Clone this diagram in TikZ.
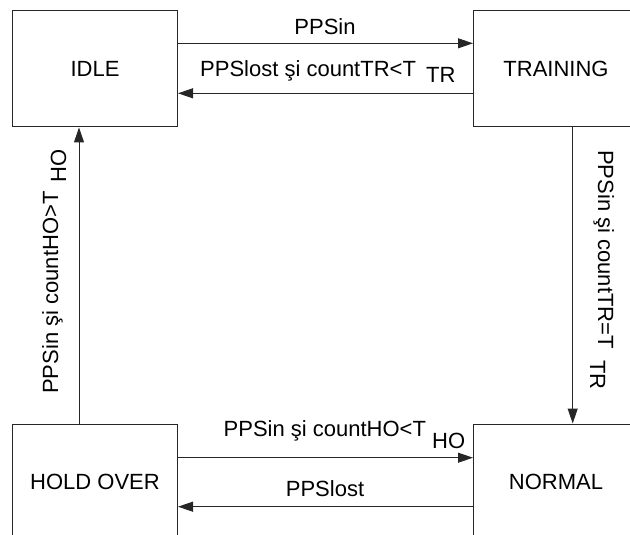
\documentclass[tikz,border=0pt]{standalone}
\usepackage{fontspec}
\setmainfont{Liberation Sans}
\usetikzlibrary{arrows.meta}
\begin{document}
\begin{tikzpicture}[x=1pt,y=1pt,
  font=\fontsize{22}{26}\selectfont,
  state/.style={draw=black!85, line width=1pt, rectangle, inner sep=0pt,
    minimum width=165pt, minimum height=116pt},
  conn/.style={draw=black!85, line width=1pt, -{Triangle[length=15pt,width=10pt]}},
  lbl/.style={inner sep=0pt, text=black}
]
\useasboundingbox (0,0) rectangle (630,-535);
\begin{scope}
\clip (0,0) rectangle (630,-535);
\node[state] (idle)  at (95,-69)  {IDLE};
\node[state] (train) at (556,-69) {TRAINING};
\node[state] (hold)  at (95,-482) {HOLD OVER};
\node[state] (norm)  at (556,-482) {NORMAL};

\coordinate (y1) at (0,-43.3);
\coordinate (y2) at (0,-93.3);
\coordinate (y3) at (0,-457.7);
\coordinate (y4) at (0,-506.7);
\coordinate (xl) at (79,0);
\coordinate (xr) at (572.7,0);

\draw[conn] (idle.east |- y1) -- (train.west |- y1);
\draw[conn] (train.west |- y2) -- (idle.east |- y2);
\draw[conn] (train.south -| xr) -- (norm.north -| xr);
\draw[conn] (hold.east |- y3) -- (norm.west |- y3);
\draw[conn] (norm.west |- y4) -- (hold.east |- y4);
\draw[conn] (hold.north -| xl) -- (idle.south -| xl);
\end{scope}

\node[lbl, anchor=base] (l1) at (325,-35) {PPSin};
\node[lbl, anchor=base west] (l2) at (200,-77) {PPSlost şi countTR<T};
\node[lbl, anchor=base west] (l2s) at (426,-82.5) {TR};

\node[lbl, anchor=base west] (l3) at (223.5,-436.7) {PPSin şi countHO<T};
\node[lbl, anchor=base west] (l3s) at (432,-448) {HO};
\node[lbl, anchor=base] (l4) at (325,-496.7) {PPSlost};

\node[lbl, anchor=base west, rotate=-90] (l5) at (598,-150) {PPSin şi countTR=T};
\node[lbl, anchor=base west, rotate=-90] (l5s) at (590,-360) {TR};

\node[lbl, anchor=base west, rotate=90] (l6) at (58,-394) {PPSin şi countHO>T};
\node[lbl, anchor=base west, rotate=90] (l6s) at (66,-183) {HO};
\end{tikzpicture}
\end{document}
